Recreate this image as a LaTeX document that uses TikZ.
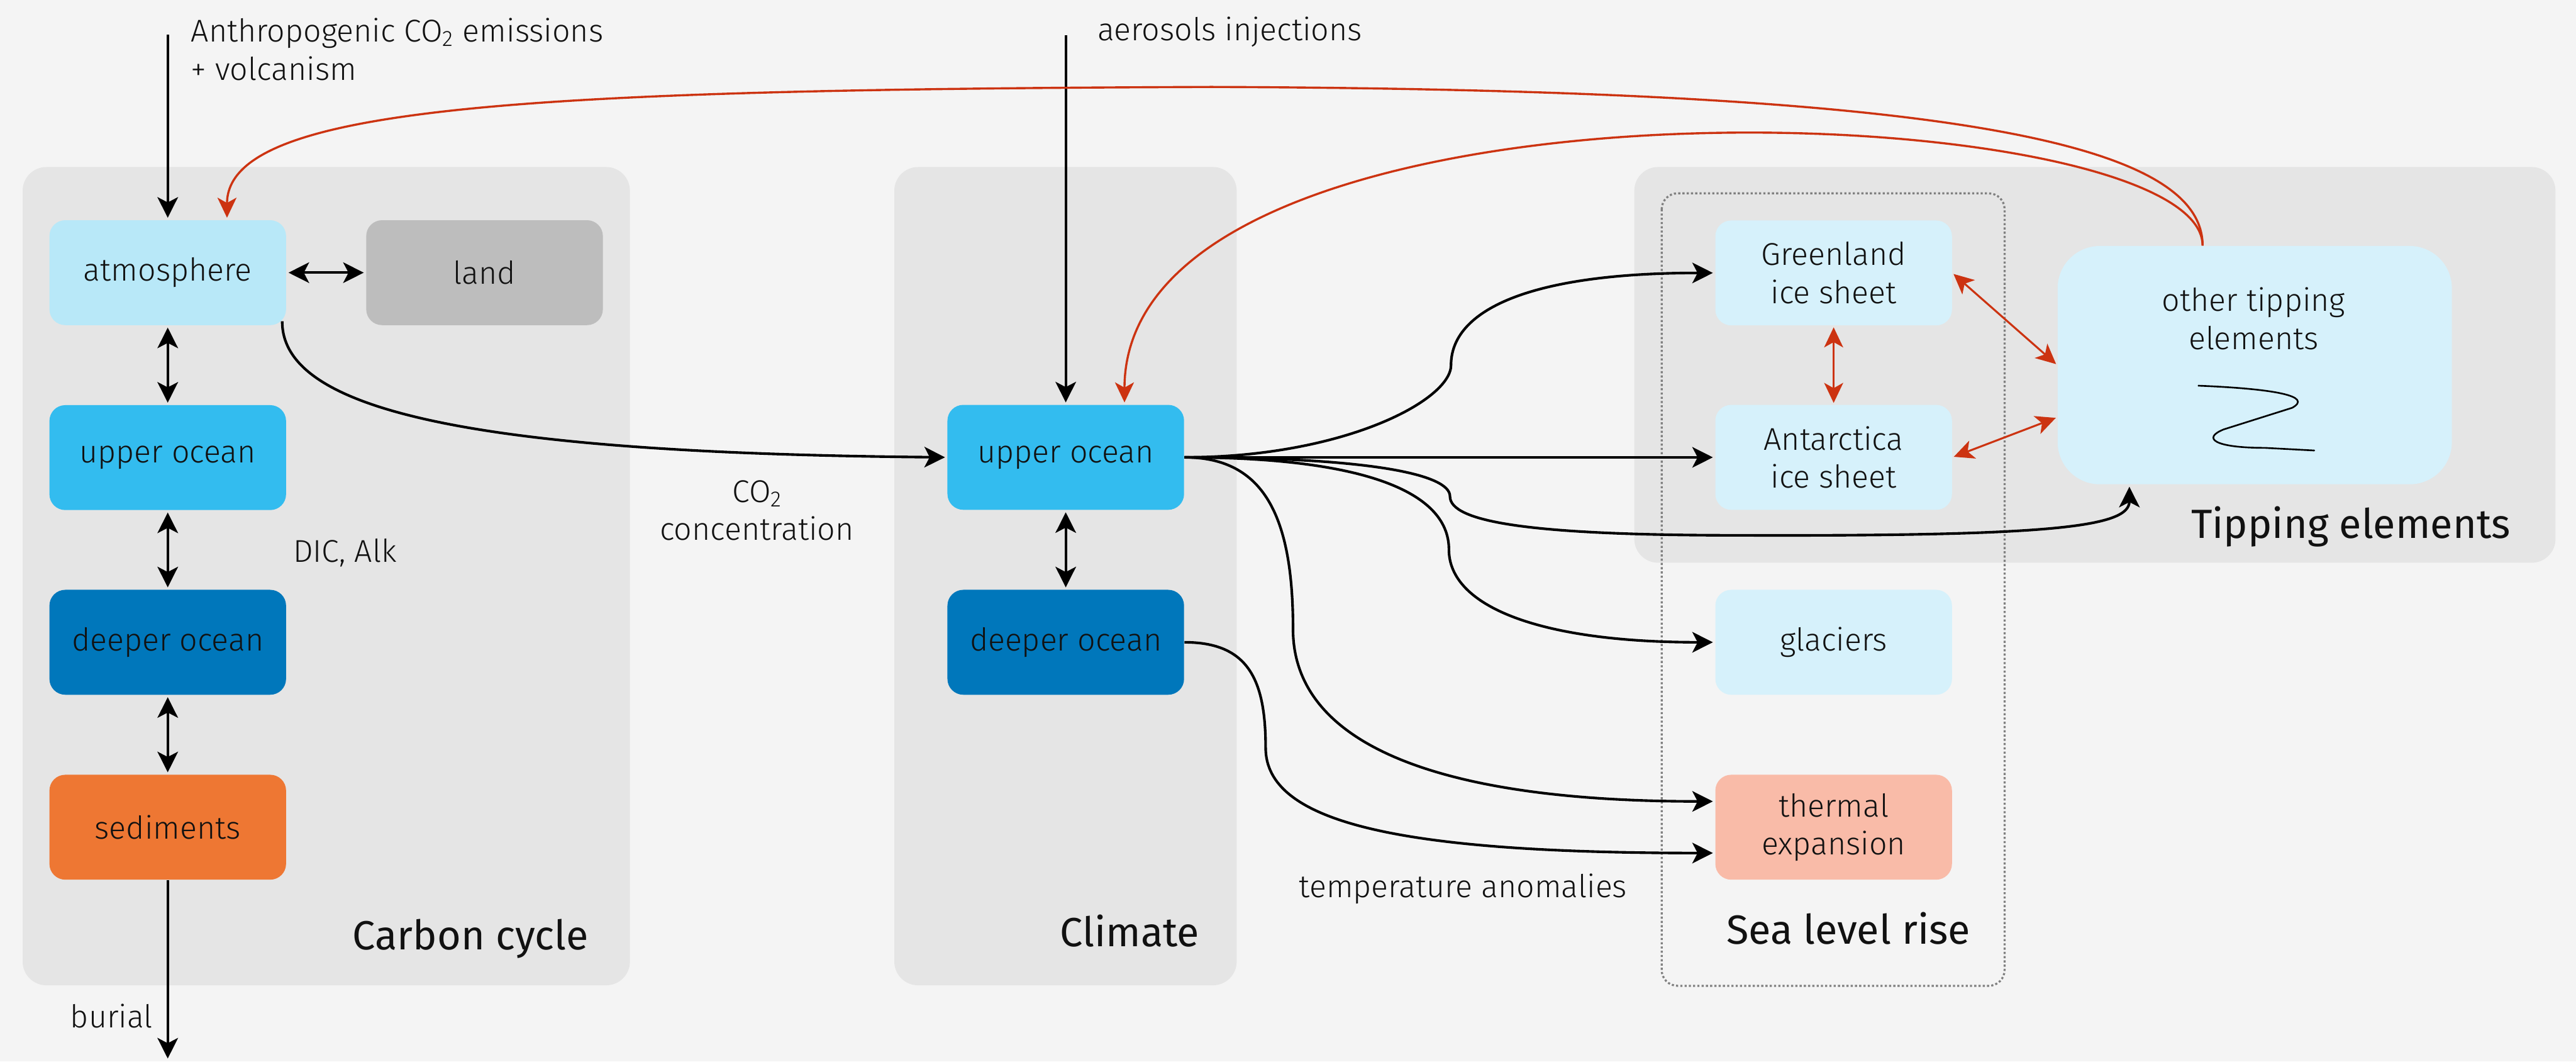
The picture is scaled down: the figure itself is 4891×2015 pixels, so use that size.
\documentclass[tikz,border=0pt]{standalone}
\usepackage{fontspec}
\setmainfont{Fira Sans}
\newfontfamily\lightfam{Fira Sans Light}
\usetikzlibrary{arrows.meta,calc}
\definecolor{bgc}{HTML}{F4F4F4}
\definecolor{panelc}{HTML}{E5E5E5}
\definecolor{atmc}{HTML}{B8E8F8}
\definecolor{landc}{HTML}{BDBDBD}
\definecolor{upc}{HTML}{33BCEF}
\definecolor{deepc}{HTML}{0077BB}
\definecolor{sedc}{HTML}{EE7733}
\definecolor{icec}{HTML}{D6F1FB}
\definecolor{thermc}{HTML}{F9BBA8}
\definecolor{redc}{HTML}{CC3311}
\definecolor{dotc}{HTML}{808080}
\definecolor{txtc}{HTML}{111111}
\newcommand{\lblfont}{\lightfam\fontsize{17}{20.5}\selectfont}
\newcommand{\bigfont}{\fontsize{22}{26}\selectfont}
\begin{document}
\begin{tikzpicture}[x=0.01cm,y=-0.01cm,
  box/.style={rounded corners=0.3cm, minimum width=4.49cm, minimum height=1.99cm,
    inner sep=0pt, align=center, font=\lblfont, text=txtc},
  lbl/.style={font=\lblfont, text=txtc, inner sep=0pt},
  biglbl/.style={font=\bigfont, text=txtc, inner sep=0pt},
  ar/.style={line width=1.4pt, -{Stealth[length=3.9mm,width=3.9mm,inset=1mm]}, shorten >=0.04cm},
  dar/.style={line width=1.4pt, {Stealth[length=3.9mm,width=3.9mm,inset=1mm]}-{Stealth[length=3.9mm,width=3.9mm,inset=1mm]}, shorten >=0.04cm, shorten <=0.04cm},
  redar/.style={redc, line width=1.15pt, -{Stealth[length=3.8mm,width=3.6mm,inset=1mm]}, shorten >=0.04cm},
  rdar/.style={redc, line width=1.05pt, {Stealth[length=3.8mm,width=3.6mm,inset=1mm]}-{Stealth[length=3.8mm,width=3.6mm,inset=1mm]}, shorten >=0.03cm, shorten <=0.03cm}
]
% background / bounding box
\path[use as bounding box, fill=bgc] (0,0) rectangle (4891,2015);

% panels
\fill[panelc, rounded corners=0.45cm] (43,317) rectangle (1196,1870);
\fill[panelc, rounded corners=0.45cm] (1698,317) rectangle (2348,1870);
\fill[panelc, rounded corners=0.45cm] (3103,317) rectangle (4852,1068);
\draw[dotc, line width=1.1pt, dash pattern=on 1.15pt off 1.15pt, rounded corners=0.3cm] (3155,367) rectangle (3806,1871);

% carbon cycle nodes
\node[box, fill=atmc] (atm) at (318.5,517.5) {atmosphere};
\node[box, fill=landc] (land) at (920,517.5) {land};
\node[box, fill=upc] (cu) at (318.5,868.5) {upper ocean};
\node[box, fill=deepc] (cd) at (318.5,1219) {deeper ocean};
\node[box, fill=sedc] (sed) at (318.5,1570) {sediments};

% climate nodes
\node[box, fill=upc] (mu) at (2023.5,868) {upper ocean};
\node[box, fill=deepc] (md) at (2023.5,1219) {deeper ocean};

% sea level / tipping nodes
\node[box, fill=icec] (gr) at (3481.5,518) {Greenland\\ice sheet};
\node[box, fill=icec] (an) at (3481.5,868) {Antarctica\\ice sheet};
\node[box, fill=icec] (gl) at (3481.5,1219) {glaciers};
\node[box, fill=thermc] (th) at (3481.5,1570) {thermal\\expansion};
\node[rounded corners=0.8cm, fill=icec, minimum width=7.48cm, minimum height=4.52cm, inner sep=0pt] (ot) at (4281,693) {};
\node[lbl, align=center, anchor=base] (ottxt) at (4279,663) {other tipping\\elements};
\draw[line width=0.9pt, line cap=round, line join=round] (4174,732) .. controls (4320,738) and (4392,752) .. (4352,774) -- (4222,815) .. controls (4180,832) and (4205,850) .. (4300,850) -- (4394,855);

% text labels
\node[lbl, anchor=base west] (emis1) at (362,79) {Anthropogenic CO\textsubscript{2} emissions};
\node[lbl, anchor=base west] (emis2) at (362,152) {+ volcanism};
\node[lbl, anchor=base west] (aer) at (2083,77) {aerosols injections};
\node[lbl, anchor=base west] (dic) at (556,1067) {DIC, Alk};
\node[lbl, anchor=base west] (bur) at (133,1950) {burial};
\node[lbl, anchor=base] (co2a) at (1438,953) {CO\textsubscript{2}};
\node[lbl, anchor=base] (co2b) at (1437,1025) {concentration};
\node[lbl, anchor=base west] (temp) at (2466,1703) {temperature anomalies};
\node[biglbl, anchor=base east] (tcc) at (1118,1803) {Carbon cycle};
\node[biglbl, anchor=base east] (tcl) at (2278,1796) {Climate};
\node[biglbl, anchor=base east] (tsl) at (3742,1792) {Sea level rise};
\node[biglbl, anchor=base east] (tte) at (4767,1022) {Tipping elements};

% free-end coordinates
\coordinate (e0) at (318.5,66);
\coordinate (a0) at (2023.5,67);
\coordinate (bend) at (318.5,2013);
\coordinate (otTop) at ($(ot.north)+(-99,0)$);
\coordinate (atmTop) at ($(atm.north)+(112.5,0)$);
\coordinate (muTop) at ($(mu.north)+(111.5,0)$);
\coordinate (otBot) at ($(ot.south)+(-238,0)$);
\coordinate (atmOut) at ($(atm.south east)+(-8,-8)$);
\coordinate (thUp) at ($(th.west)+(0,-49)$);
\coordinate (thLo) at ($(th.west)+(0,49)$);
\coordinate (otLow) at ($(ot.west)+(0,99)$);

% carbon cycle connectors
\draw[ar] (e0) -- (atm.north);
\draw[dar] (atm.east) -- (land.west);
\draw[dar] (atm.south) -- (cu.north);
\draw[dar] (cu.south) -- (cd.north);
\draw[dar] (cd.south) -- (sed.north);
\draw[ar] (sed.south) -- (bend);
\draw[ar] (atmOut) .. controls (535,780) and (900,860) .. (mu.west);

% climate connectors
\draw[ar] (a0) -- (mu.north);
\draw[dar] (mu.south) -- (md.north);
\draw[ar] (mu.east) -- (an.west);
\draw[ar] (mu.east) .. controls (2550,868) and (2755,760) .. (2755,693) .. controls (2755,590) and (2900,518) .. (gr.west);
\draw[ar] (mu.east) .. controls (2600,868) and (2753,900) .. (2753,942) .. controls (2753,990) and (2900,1016) .. (3300,1016) .. controls (3900,1018) and (4043,1000) .. (otBot);
\draw[ar] (mu.east) .. controls (2580,868) and (2751,930) .. (2751,1043) .. controls (2751,1150) and (2920,1219) .. (gl.west);
\draw[ar] (mu.east) .. controls (2400,868) and (2455,980) .. (2455,1194) .. controls (2455,1400) and (2700,1521) .. (thUp);
\draw[ar] (md.east) .. controls (2370,1219) and (2403,1290) .. (2403,1419) .. controls (2403,1560) and (2650,1619) .. (thLo);

% red feedbacks
\draw[redar] (otTop) .. controls (4182,270) and (3700,170) .. (2300,165) .. controls (1000,170) and (431,200) .. (atmTop);
\draw[redar] (otTop) .. controls (4182,180) and (2135,100) .. (muTop);
\draw[rdar] (gr.south) -- (an.north);
\draw[rdar] (gr.east) -- (ot.west);
\draw[rdar] (an.east) -- (otLow);
\end{tikzpicture}
\end{document}
